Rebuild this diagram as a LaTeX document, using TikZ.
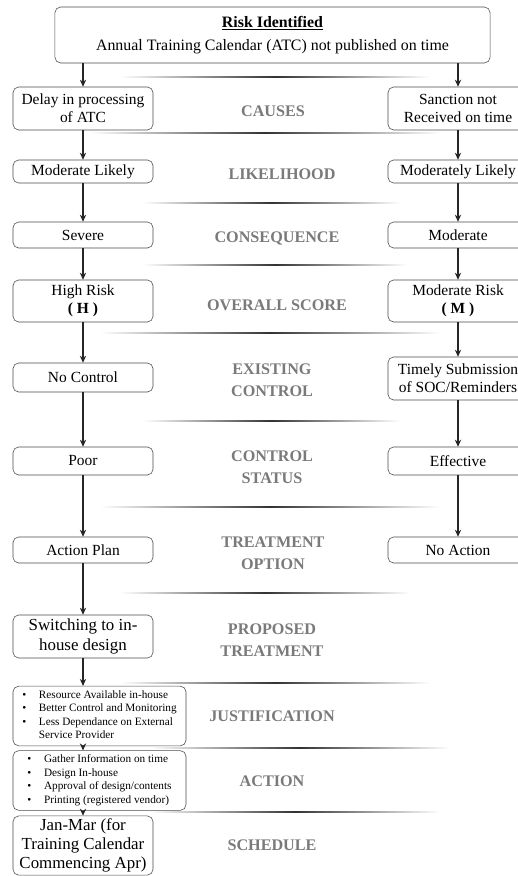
\documentclass[tikz,border=0pt]{standalone}
\usepackage{fontspec}
\setmainfont{Liberation Serif}
\usetikzlibrary{arrows.meta}
\tikzset{
  box/.style={draw=black!70, rounded corners=4pt, align=center, inner sep=2pt,
    minimum width=3.5cm, font=\fontsize{11}{13}\selectfont},
  lbl/.style={text=black!52, align=center, font=\fontsize{11.5}{15.5}\selectfont\bfseries},
  flow/.style={-{Stealth[length=5pt,width=4.5pt]}, line width=1.1pt, black!85},
  sep/.style={left color=white, right color=white, middle color=black!80}
}
\begin{document}
\begin{tikzpicture}[x=0.025cm, y=-0.025cm]
  \clip (0,0) rectangle (518,876);
  \fill[white] (0,0) rectangle (518,876);

  \foreach \y/\a/\b in {77/120/430, 133/90/440, 203/143/400, 265/143/407, 333/100/440,
                        421/143/400, 507/100/440, 593/120/410, 683/120/430, 748/150/450, 812/150/440}
    \shade[sep] (\a,\y-0.9) rectangle (\b,\y+0.9);

  \node[box, minimum width=10.875cm, minimum height=1.4cm, font=\fontsize{11.3}{13}\selectfont] (risk) at (272.5,35)
    {\underline{\textbf{Risk Identified}}\\[3pt]Annual Training Calendar (ATC) not published on time};

  \node[box, minimum height=1.075cm] (causeL) at (83,108.5) {Delay in processing\\of ATC};
  \node[box, minimum height=1.075cm] (causeR) at (458,108.5) {Sanction not\\Received on time};
  \node[lbl] (lcause) at (273,111) {CAUSES};

  \node[box, minimum height=0.575cm] (likeL) at (83,171.5) {Moderate Likely};
  \node[box, minimum height=0.575cm] (likeR) at (458,171.5) {Moderately Likely};
  \node[lbl] (llike) at (282,174) {LIKELIHOOD};

  \node[box, minimum height=0.65cm] (consL) at (83,235) {Severe};
  \node[box, minimum height=0.65cm] (consR) at (458,235) {Moderate};
  \node[lbl] (lcons) at (277,238) {CONSEQUENCE};

  \node[box, minimum height=1.05cm] (scoreL) at (83,301) {High Risk\\\textbf{( H )}};
  \node[box, minimum height=1.05cm] (scoreR) at (458,301) {Moderate Risk\\\textbf{( M )}};
  \node[lbl] (lscore) at (277,305) {OVERALL SCORE};

  \node[box, minimum height=0.725cm] (ctrlL) at (83,377.5) {No Control};
  \node[box, minimum height=1.075cm] (ctrlR) at (458,378.5) {Timely Submission\\of SOC/Reminders};
  \node[lbl] (lctrl) at (272,380) {EXISTING\\CONTROL};

  \node[box, minimum height=0.7cm] (statL) at (83,461) {Poor};
  \node[box, minimum height=0.7cm] (statR) at (458,461) {Effective};
  \node[lbl] (lstat) at (272,467) {CONTROL\\STATUS};

  \node[box, minimum height=0.65cm] (optL) at (83,550) {Action Plan};
  \node[box, minimum height=0.65cm] (optR) at (458,550) {No Action};
  \node[lbl] (lopt) at (273,553) {TREATMENT\\OPTION};

  \node[box, minimum height=1.075cm, font=\fontsize{12}{14}\selectfont] (prop) at (83,636.5) {Switching to in-\\house design};
  \node[lbl] (lprop) at (272,640) {PROPOSED\\TREATMENT};

  \node[box, minimum width=4.325cm, minimum height=1.35cm, font=\fontsize{8}{9.6}\selectfont] (just) at (99.5,716)
    {\begin{tabular}{@{}l@{\hspace{9pt}}l@{}}
      \textbullet & Resource Available in-house\\
      \textbullet & Better Control and Monitoring\\
      \textbullet & Less Dependance on External\\
                  & Service Provider
    \end{tabular}};
  \node[lbl] (ljust) at (272,716) {JUSTIFICATION};

  \node[box, minimum width=4.325cm, minimum height=1.375cm, font=\fontsize{8}{9.6}\selectfont] (act) at (99.5,780.5)
    {\begin{tabular}{@{}l@{\hspace{9pt}}l@{}}
      \textbullet & Gather Information on time\\
      \textbullet & Design In-house\\
      \textbullet & Approval of design/contents\\
      \textbullet & Printing (registered vendor)
    \end{tabular}};
  \node[lbl] (lact) at (272,781) {ACTION};

  \node[box, minimum height=1.375cm, font=\fontsize{12}{13.5}\selectfont] (sched) at (83,845.5)
    {Jan-Mar (for\\Training Calendar\\Commencing Apr)};
  \node[lbl] (lsched) at (272,845) {SCHEDULE};

  \draw[flow] (risk.south -| causeL) -- (causeL);
  \draw[flow] (risk.south -| causeR) -- (causeR);
  \foreach \u/\v in {causeL/likeL, likeL/consL, consL/scoreL, scoreL/ctrlL, ctrlL/statL, statL/optL, optL/prop,
                     causeR/likeR, likeR/consR, consR/scoreR, scoreR/ctrlR, ctrlR/statR, statR/optR}
    \draw[flow] (\u) -- (\v);
  \draw[flow] (prop) -- (just.north -| prop);
  \draw[flow] (just.south -| prop) -- (act.north -| prop);
  \draw[flow] (act.south -| prop) -- (sched);
\end{tikzpicture}
\end{document}
